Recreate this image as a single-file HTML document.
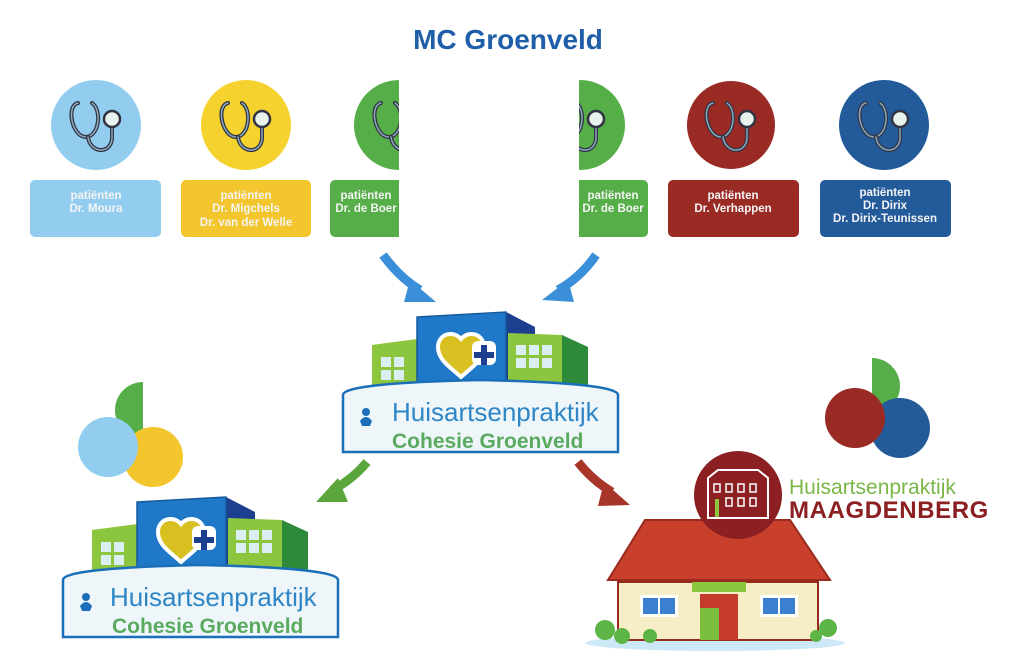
<!DOCTYPE html>
<html><head><meta charset="utf-8"><style>
html,body{margin:0;padding:0;background:#fff}
svg{display:block;font-family:"Liberation Sans",sans-serif}
</style></head><body>
<svg width="1024" height="659" viewBox="0 0 1024 659" xmlns="http://www.w3.org/2000/svg">
<defs>
<g id="steth" fill="none" stroke-linecap="round">
 <path d="M-18,-22 C-28,-20 -26,2 -16,10 C-10,14 -4,12 0,4 C4,-6 2,-18 -4,-22" stroke="#334" stroke-width="4"/>
 <path d="M-18,-22 C-28,-20 -26,2 -16,10 C-10,14 -4,12 0,4 C4,-6 2,-18 -4,-22" stroke="#8ab" stroke-width="1.5"/>
 <path d="M-8,12 C-6,28 14,30 16,14 L16,2" stroke="#334" stroke-width="4"/>
 <path d="M-8,12 C-6,28 14,30 16,14 L16,2" stroke="#8ab" stroke-width="1.5"/>
 <circle cx="16" cy="-6" r="8" fill="#e8f3ee" stroke="#334" stroke-width="2.5"/>
</g>
<g id="bld">
 <polygon points="92,530 137,524 137,578 92,578" fill="#8cc63f"/>
 <g fill="#dbeef4"><rect x="101" y="542" width="10" height="10"/><rect x="114" y="542" width="10" height="10"/><rect x="101" y="555" width="10" height="10"/><rect x="114" y="555" width="10" height="10"/></g>
 <polygon points="226,497 255,512 255,575 226,575" fill="#1d3f8f"/>
 <polygon points="137,502 226,497 226,575 137,575" fill="#1f78c8" stroke="#16599a" stroke-width="1.5"/>
 <polygon points="282,520 308,532 308,575 282,575" fill="#2d8a3a"/>
 <polygon points="228,518 282,520 282,575 228,575" fill="#8cc63f"/>
 <g fill="#dbeef4"><rect x="236" y="530" width="10" height="10"/><rect x="249" y="530" width="10" height="10"/><rect x="262" y="530" width="10" height="10"/><rect x="236" y="543" width="10" height="10"/><rect x="249" y="543" width="10" height="10"/><rect x="262" y="543" width="10" height="10"/></g>
 <path d="M181,562 C170,552 158,545 158,532 C158,520 172,514 181,524 C190,514 204,520 204,532 C204,545 192,552 181,562 Z" fill="#d8c020" stroke="#fff" stroke-width="4"/>
 <rect x="192" y="526" width="24" height="24" rx="6" fill="#fff"/>
 <path d="M201,530h6v7h7v6h-7v7h-6v-7h-7v-6h7z" fill="#1d3f8f"/>
 <path d="M63,580 Q63,568 200,565 Q338,568 338,580 L338,637 L63,637 Z" fill="#eef6fa" stroke="#1a6fb8" stroke-width="2.5"/>
 <circle cx="86" cy="597" r="4" fill="#1a6fb8"/><path d="M80,606 q6,-8 12,0 l-2,5 h-8z" fill="#1a6fb8"/>
</g>
</defs>

<text x="508" y="49" text-anchor="middle" font-size="28" font-weight="bold" fill="#1f5ea8">MC Groenveld</text>

<circle cx="96" cy="125" r="45" fill="#92cdf0"/>
<circle cx="246" cy="125" r="45" fill="#f5d22e"/>
<circle cx="399" cy="125" r="45" fill="#56ae48"/>
<circle cx="580" cy="125" r="45" fill="#56ae48"/>
<circle cx="731" cy="125" r="44" fill="#9a2a24"/>
<circle cx="884" cy="125" r="45" fill="#235b9a"/>
<use href="#steth" x="96" y="125"/><use href="#steth" x="246" y="125"/><use href="#steth" x="399" y="125"/><use href="#steth" x="580" y="125"/><use href="#steth" x="731" y="125"/><use href="#steth" x="884" y="125"/>

<rect x="30" y="180" width="131" height="57" rx="5" fill="#92cdf0"/>
<rect x="181" y="180" width="130" height="57" rx="5" fill="#f2c62c"/>
<rect x="330" y="180" width="80" height="57" rx="5" fill="#56ae48"/>
<rect x="570" y="180" width="78" height="57" rx="5" fill="#56ae48"/>
<rect x="668" y="180" width="131" height="57" rx="5" fill="#9a2a24"/>
<rect x="820" y="180" width="131" height="57" rx="5" fill="#235b9a"/>
<rect x="399" y="70" width="180" height="175" fill="#fff"/>

<g font-size="11.5" font-weight="bold" fill="#f4f4f4" text-anchor="middle">
<text x="96" y="199">patiënten</text><text x="96" y="212">Dr. Moura</text>
<text x="246" y="199">patiënten</text><text x="246" y="212">Dr. Migchels</text><text x="246" y="226">Dr. van der Welle</text>
<text x="366" y="199">patiënten</text><text x="366" y="212">Dr. de Boer</text>
<text x="613" y="199">patiënten</text><text x="613" y="212">Dr. de Boer</text>
<text x="733" y="199">patiënten</text><text x="733" y="212">Dr. Verhappen</text>
<text x="885" y="196">patiënten</text><text x="885" y="209">Dr. Dirix</text><text x="885" y="222">Dr. Dirix-Teunissen</text>
</g>

<g stroke-width="9" fill="none">
<path d="M383,255 Q400,278 420,290" stroke="#3a8fd8"/>
<polygon points="410,280 436,302 404,302" fill="#3a8fd8"/>
<path d="M596,255 Q580,278 558,290" stroke="#3a8fd8"/>
<polygon points="568,280 542,300 574,302" fill="#3a8fd8"/>
<path d="M367,462 Q352,480 332,490" stroke="#5aa63c"/>
<polygon points="338,478 316,502 348,502" fill="#5aa63c"/>
<path d="M578,462 Q592,480 612,492" stroke="#a8352a"/>
<polygon points="604,482 630,505 598,506" fill="#a8352a"/>
</g>

<path d="M143,382 A28,28 0 0 0 143,438 Z" fill="#56ae48"/>
<circle cx="153" cy="457" r="30" fill="#f2c62c"/>
<circle cx="108" cy="447" r="30" fill="#92cdf0"/>

<path d="M872,358 A28,28 0 0 1 872,414 Z" fill="#56ae48"/>
<circle cx="900" cy="428" r="30" fill="#235b9a"/>
<circle cx="855" cy="418" r="30" fill="#9a2a24"/>

<g transform="translate(280,-185)"><use href="#bld"/></g>
<use href="#bld"/>
<text x="392" y="421" font-size="26" fill="#2f86c6">Huisartsenpraktijk</text>
<text x="392" y="448" font-size="21" font-weight="bold" fill="#5aaa5f">Cohesie Groenveld</text>
<text x="110" y="606" font-size="26" fill="#2f86c6">Huisartsenpraktijk</text>
<text x="112" y="633" font-size="21" font-weight="bold" fill="#5aaa5f">Cohesie Groenveld</text>

<ellipse cx="715" cy="643" rx="130" ry="8" fill="#cde8f6"/>
<polygon points="645,520 790,520 830,580 608,580" fill="#c8402c" stroke="#9a2a1e" stroke-width="2"/>
<rect x="618" y="582" width="200" height="58" fill="#f6eec6" stroke="#9a2a1e" stroke-width="2"/>
<rect x="692" y="582" width="54" height="10" fill="#8cc63f"/>
<rect x="700" y="594" width="38" height="46" fill="#c43a2c"/>
<rect x="700" y="608" width="19" height="32" fill="#7cbf3f"/>
<rect x="640" y="595" width="38" height="22" fill="#fff"/><rect x="643" y="598" width="15" height="16" fill="#3a7fd0"/><rect x="660" y="598" width="15" height="16" fill="#3a7fd0"/>
<rect x="760" y="595" width="38" height="22" fill="#fff"/><rect x="763" y="598" width="15" height="16" fill="#3a7fd0"/><rect x="780" y="598" width="15" height="16" fill="#3a7fd0"/>
<g fill="#5cb546"><circle cx="605" cy="630" r="10"/><circle cx="622" cy="636" r="8"/><circle cx="650" cy="636" r="7"/><circle cx="828" cy="628" r="9"/><circle cx="816" cy="636" r="6"/></g>

<circle cx="738" cy="495" r="44" fill="#8b1f22"/>
<g fill="none" stroke="#fff" stroke-width="2">
<path d="M708,518 V478 L718,470 H758 L768,478 V518 Z"/>
<g stroke-width="1.5"><rect x="714" y="484" width="6" height="8"/><rect x="726" y="484" width="6" height="8"/><rect x="738" y="484" width="6" height="8"/><rect x="750" y="484" width="6" height="8"/>
<rect x="726" y="498" width="6" height="8"/><rect x="738" y="498" width="6" height="8"/><rect x="750" y="498" width="6" height="8"/></g>
</g>
<rect x="715" y="499" width="4" height="18" fill="#8cc63f"/>
<text x="789" y="494" font-size="21" fill="#7ab648">Huisartsenpraktijk</text>
<text x="789" y="518" font-size="24" font-weight="bold" fill="#8b1f22" letter-spacing="0.6">MAAGDENBERG</text>
</svg>
</body></html>
